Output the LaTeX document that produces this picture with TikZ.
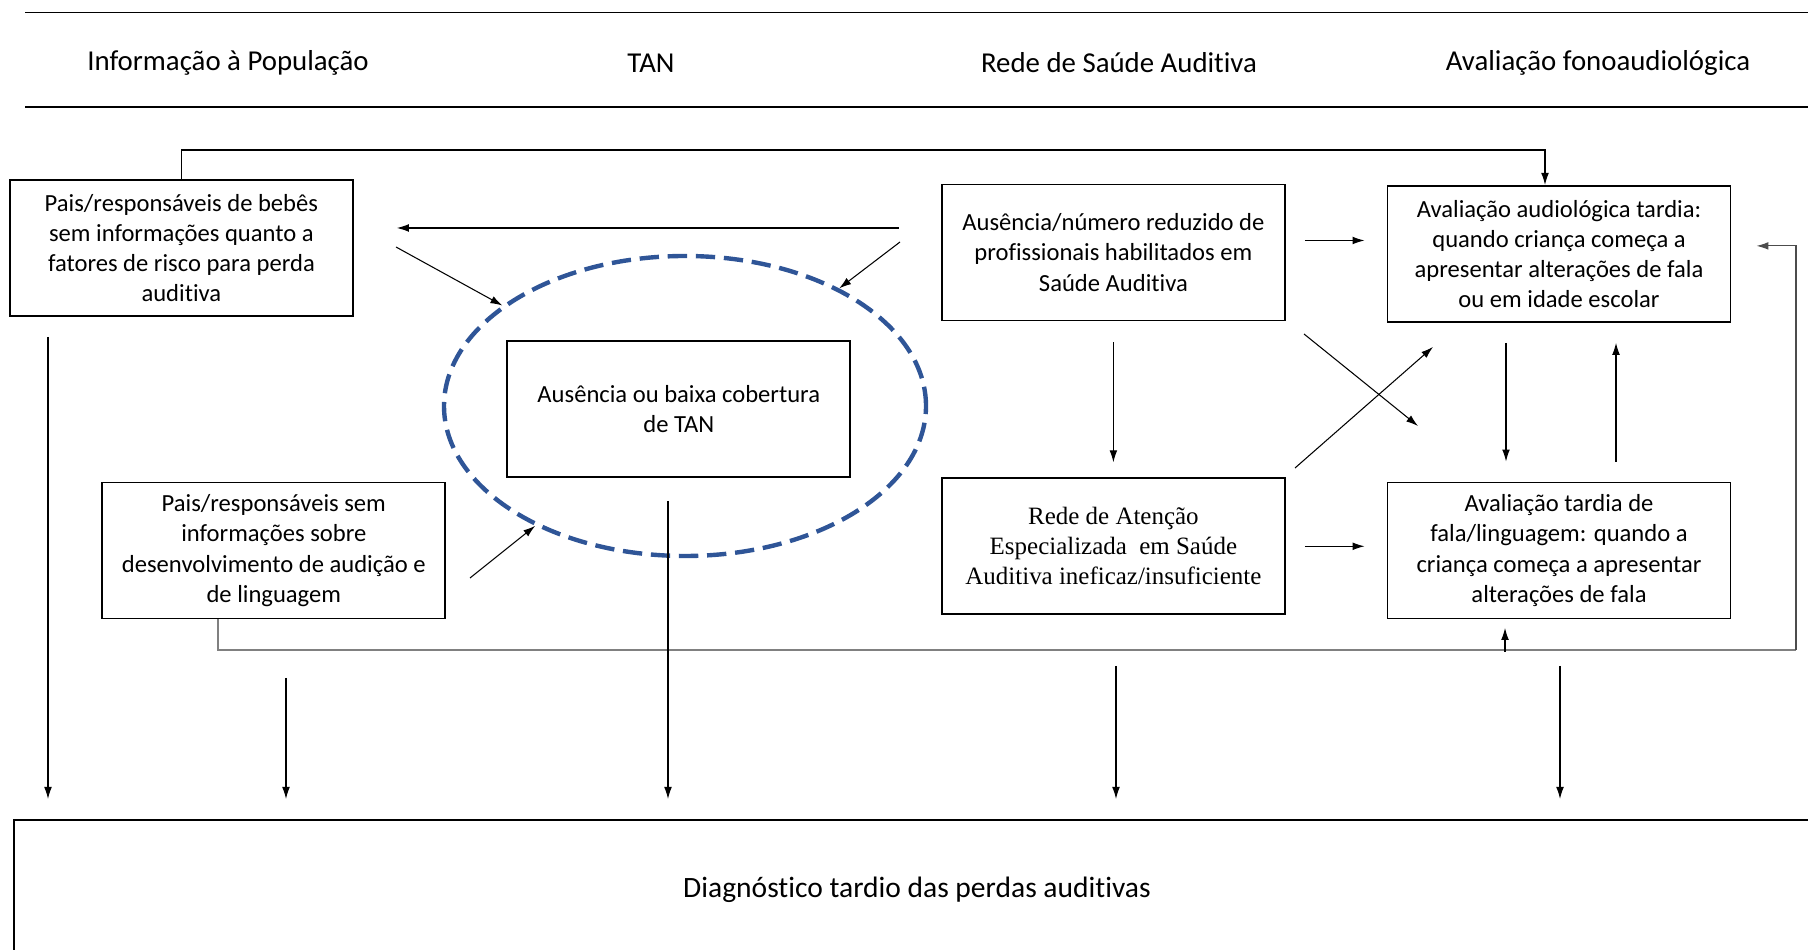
\documentclass[tikz,border=0pt]{standalone}
\usepackage{fontspec}
\setmainfont{Carlito}[Ligatures={NoCommon}]
\newfontfamily\timesfont{Liberation Serif}
\usetikzlibrary{arrows.meta,shapes.geometric}
\definecolor{dashblue}{RGB}{47,85,151}
\tikzset{
  box/.style={rectangle, draw, line width=0.55pt, minimum width=34.3mm, minimum height=13.6mm,
              align=center, inner sep=1pt, font=\fontsize{7}{8.6}\selectfont},
  head/.style={font=\fontsize{8.2}{10}\selectfont},
  arrow/.style={-{Latex[length=3.4pt, width=2.2pt]}, line width=0.3pt},
  link/.style={line width=0.3pt},
  rule/.style={line width=0.45pt},
}
\begin{document}
\begin{tikzpicture}[x=0.1mm, y=-0.1mm]
\useasboundingbox (0,0) rectangle (1808,950);
\clip (0,0) rectangle (1808,950);
% faixa de titulos
\draw[rule] (25,12.6) -- (1808,12.6);
\draw[rule] (25,107) -- (1808,107);
\node[head] (h1) at (228,63) {Informação à População};
\node[head] (h2) at (651,63) {TAN};
\node[head] (h3) at (1119,63) {Rede de Saúde Auditiva};
\node[head] (h4) at (1598,63) {Avaliação fonoaudiológica};

% caixas
\node[box] (pais1) at (181.4,247.9) {Pais/responsáveis de bebês\\sem informações quanto a\\fatores de risco para perda\\auditiva};
\node[box] (tan) at (678.8,409.2) {Ausência ou baixa cobertura\\de TAN};
\node[box] (pais2) at (273.8,550.5) {Pais/responsáveis sem\\informações sobre\\desenvolvimento de audição e\\de linguagem};
\node[box] (aus) at (1113.4,252.5) {Ausência/número reduzido de\\profissionais habilitados em\\Saúde Auditiva};
\node[box, font=\timesfont\fontsize{7.1}{8.5}\selectfont] (rede) at (1113.4,546.3) {Rede de Atenção\\Especializada\ \ em Saúde\\Auditiva ineficaz/insuficiente};
\node[box] (audio) at (1559,253.9) {Avaliação audiológica tardia:\\quando criança começa a\\apresentar alterações de fala\\ou em idade escolar};
\node[box] (fala) at (1559,550.5) {Avaliação tardia de\\fala/linguagem: quando a\\criança começa a apresentar\\alterações de fala};
\node[ellipse, draw=dashblue, line width=1.25pt, dash pattern=on 5.5pt off 2.5pt,
      minimum width=48.2mm, minimum height=30mm, inner sep=0pt] (foco) at (685,406) {};
\node[rectangle, draw, line width=0.6pt, minimum width=180.6mm, minimum height=14mm,
      font=\fontsize{8.4}{10}\selectfont] (diag) at (917,890) {Diagnóstico tardio das perdas auditivas};

% pontos soltos
\coordinate (a1) at (396,247);
\coordinate (b1) at (900,242);
\coordinate (c1) at (470,578);
\coordinate (d1) at (1304,334);
\coordinate (d2) at (1418,426);
\coordinate (e1) at (1295,468);
\coordinate (e2) at (1433,347);
\coordinate (topo) at (1545,150);
\coordinate (retorno) at (1796,650);
\coordinate (fb) at (1505,652);

% ligacoes
\draw[arrow] (pais1.north) |- (topo) -- (topo |- audio.north);
\draw[arrow, shorten <=4.2mm, shorten >=4.3mm] ([yshift=2.45mm]aus.west) -- ([yshift=2.45mm]aus.west -| pais1.east);
\draw[arrow] (a1) -- (foco);
\draw[arrow] (b1) -- (foco);
\draw[arrow] (c1) -- (foco);
\draw[arrow, shorten <=1.9mm, shorten >=2.2mm] ([yshift=1.2mm]aus.east) -- ([yshift=1.2mm]aus.east -| audio.west);
\draw[arrow, shorten <=1.9mm, shorten >=2.2mm] (rede.east) -- (rede.east -| fala.west);
\draw[arrow, shorten <=2.1mm, shorten >=1.5mm] (aus.south) -- (rede.north);
\draw[arrow] (d1) -- (d2);
\draw[arrow] (e1) -- (e2);
\draw[arrow, shorten <=2mm, shorten >=2mm] ([xshift=-5.3mm]audio.south) -- ([xshift=-5.3mm]fala.north);
\draw[arrow, shorten <=2mm, shorten >=2mm] ([xshift=5.7mm]fala.north) -- ([xshift=5.7mm]audio.south);
\draw[link, gray, line width=0.6pt] ([xshift=-5.6mm]pais2.south) |- (retorno);
\draw[arrow, gray!60!black, shorten >=2.5mm] (retorno) |- ([yshift=0.8mm]audio.east);
\draw[arrow, shorten >=0.85mm] (fb) -- (fb |- fala.south);

% setas para o diagnostico
\coordinate (s1) at (48,337);
\coordinate (s2) at (286,678);
\coordinate (s3) at (668,501);
\coordinate (s4) at (1116,666);
\coordinate (s5) at (1560,666);
\foreach \s in {s1,s2,s3,s4,s5}
  \draw[arrow, shorten >=2mm] (\s) -- (\s |- diag.north);
\end{tikzpicture}
\end{document}
